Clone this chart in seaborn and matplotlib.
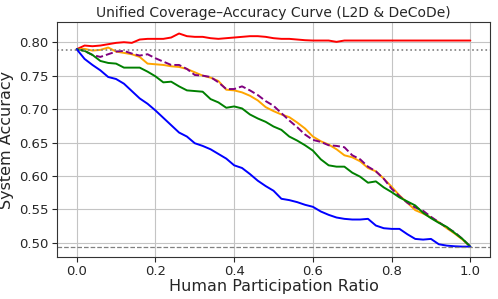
import numpy as np
import pandas as pd
import matplotlib
matplotlib.use("Agg")
import matplotlib.pyplot as plt
import seaborn as sns

ratio = [round(i * 0.02, 2) for i in range(51)]

red = [0.7895, 0.795, 0.794, 0.795, 0.797, 0.799, 0.800, 0.799, 0.804, 0.805,
       0.805, 0.805, 0.807, 0.813, 0.809, 0.808, 0.808, 0.806, 0.805, 0.806,
       0.807, 0.808, 0.809, 0.809, 0.808, 0.806, 0.805, 0.805, 0.804, 0.803,
       0.8025, 0.8025, 0.8025, 0.8005, 0.8025, 0.8025, 0.8025, 0.8025, 0.8025, 0.8025,
       0.8025, 0.8025, 0.8025, 0.8025, 0.8025, 0.8025, 0.8025, 0.8025, 0.8025, 0.8025,
       0.8025]
orange = [0.7895, 0.790, 0.7875, 0.7885, 0.792, 0.786, 0.784, 0.782, 0.778, 0.768,
          0.767, 0.766, 0.764, 0.763, 0.760, 0.755, 0.750, 0.747, 0.742, 0.729,
          0.728, 0.725, 0.720, 0.713, 0.703, 0.697, 0.692, 0.688, 0.680, 0.671,
          0.659, 0.652, 0.647, 0.640, 0.631, 0.628, 0.622, 0.612, 0.607, 0.596,
          0.584, 0.571, 0.560, 0.549, 0.544, 0.538, 0.531, 0.522, 0.514, 0.505,
          0.4945]
purple = [0.7895, 0.787, 0.781, 0.778, 0.782, 0.786, 0.787, 0.783, 0.780, 0.782,
          0.776, 0.771, 0.766, 0.766, 0.760, 0.751, 0.750, 0.748, 0.740, 0.730,
          0.730, 0.734, 0.728, 0.721, 0.712, 0.705, 0.694, 0.683, 0.673, 0.662,
          0.654, 0.651, 0.646, 0.645, 0.643, 0.631, 0.625, 0.614, 0.607, 0.596,
          0.581, 0.570, 0.560, 0.553, 0.548, 0.539, 0.531, 0.523, 0.516, 0.506,
          0.4945]
green = [0.7895, 0.787, 0.781, 0.772, 0.769, 0.768, 0.762, 0.762, 0.762, 0.756,
         0.749, 0.740, 0.741, 0.734, 0.728, 0.727, 0.726, 0.715, 0.710, 0.702,
         0.704, 0.701, 0.692, 0.686, 0.681, 0.674, 0.669, 0.659, 0.653, 0.646,
         0.638, 0.625, 0.616, 0.614, 0.614, 0.605, 0.599, 0.590, 0.592, 0.583,
         0.576, 0.568, 0.562, 0.556, 0.545, 0.537, 0.530, 0.524, 0.515, 0.506,
         0.4945]
blue = [0.7895, 0.775, 0.766, 0.758, 0.748, 0.745, 0.738, 0.727, 0.716, 0.708,
        0.698, 0.687, 0.676, 0.665, 0.659, 0.649, 0.645, 0.640, 0.633, 0.626,
        0.616, 0.612, 0.603, 0.593, 0.585, 0.578, 0.566, 0.564, 0.561, 0.557,
        0.554, 0.547, 0.542, 0.538, 0.536, 0.535, 0.535, 0.536, 0.526, 0.522,
        0.521, 0.521, 0.513, 0.506, 0.505, 0.506, 0.498, 0.496, 0.495, 0.4945,
        0.4945]

model_acc = 0.789
human_acc = 0.4945

sns.set_style("ticks")
plt.rcParams['font.family'] = ['DejaVu Sans']

fig, ax = plt.subplots(figsize=(4.98, 2.99), dpi=100)
fig.subplots_adjust(left=0.1145, right=0.984, top=0.926, bottom=0.1405)

series = [(red, "red", "-"), (orange, "orange", "-"), (purple, "purple", "--"),
          (green, "green", "-"), (blue, "blue", "-")]
for vals, col, ls in series:
    df = pd.DataFrame({"ratio": ratio, "acc": vals})
    sns.lineplot(data=df, x="ratio", y="acc", color=col, linestyle=ls,
                 linewidth=1.4, ax=ax)

ax.axhline(model_acc, color="gray", linestyle=":", linewidth=1.2)
ax.axhline(human_acc, color="gray", linestyle="--", linewidth=0.9)

ax.set_xlim(-0.05, 1.05)
ax.set_ylim(0.479, 0.830)
ax.set_xticks([0.0, 0.2, 0.4, 0.6, 0.8, 1.0])
ax.set_yticks([0.50, 0.55, 0.60, 0.65, 0.70, 0.75, 0.80])
ax.grid(True, color="#c4c4c4", linewidth=0.8)
for s in ax.spines.values():
    s.set_color("#333333")
    s.set_linewidth(0.8)
ax.tick_params(labelsize=9.5, length=3.5, pad=2.5)
ax.set_title("Unified Coverage–Accuracy Curve (L2D & DeCoDe)", fontsize=10, pad=3.5)
ax.set_xlabel("Human Participation Ratio", fontsize=11.5, labelpad=0.5)
ax.set_ylabel("System Accuracy", fontsize=11.5, labelpad=4)

fig.savefig("out.png", dpi=100)
